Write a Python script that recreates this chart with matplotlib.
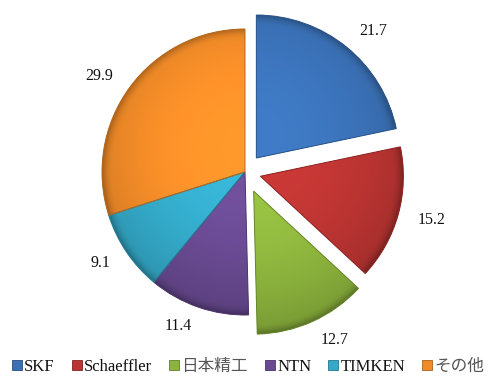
import matplotlib
matplotlib.use('Agg')
import matplotlib.pyplot as plt
import numpy as np
from matplotlib.colors import to_rgb
from matplotlib.patches import Patch, PathPatch

labels = ['SKF', 'Schaeffler', '日本精工', 'NTN', 'TIMKEN', 'その他']
values = [21.7, 15.2, 12.7, 11.4, 9.1, 29.9]
colors = ['#3a70b5', '#b93432', '#8cb33d', '#694a92', '#34a9c8', '#f18b28']
explode = [18, 16, 21, 0, 0, 0]

CX, CY = 245, 214

fig = plt.figure(figsize=(4.91, 3.86), dpi=100)
ax = fig.add_axes([0, 0, 1, 1])

wedges, texts = ax.pie(values, explode=explode, colors=colors, startangle=90,
                       counterclock=False, center=(CX, CY), radius=143,
                       labels=[f'{v:.1f}' for v in values], labeldistance=1.14,
                       textprops=dict(fontfamily='Liberation Serif', fontsize=11.5, color='#111111'),
                       frame=True, wedgeprops=dict(linewidth=0))
for t in texts:
    x, y = t.get_position()
    t.set_horizontalalignment('left' if x > CX else 'right')

# gradient shading clipped to each wedge
for w, c in zip(wedges, colors):
    cx, cy = w.center
    r = w.r
    base = np.array(to_rgb(c))
    n = 200
    xs = np.linspace(cx - r, cx + r, n)
    ys = np.linspace(cy - r, cy + r, n)
    X, Y = np.meshgrid(xs, ys)
    d = np.sqrt((X - cx) ** 2 + (Y - cy) ** 2) / r
    f = 1.10 - 0.18 * d ** 2
    f = f - 0.22 * np.clip((d - 0.93) / 0.07, 0, 1) ** 2
    f = f + 0.06 * (Y - cy) / r
    img = np.clip(base[None, None, :] * f[..., None], 0, 1)
    im = ax.imshow(img, extent=(cx - r, cx + r, cy - r, cy + r), origin='lower',
                   interpolation='bilinear', zorder=w.get_zorder() + 0.1)
    im.set_clip_path(w)
    dark = np.clip(base * 0.75, 0, 1)
    ax.add_patch(PathPatch(w.get_path(), fill=False, edgecolor=dark, linewidth=0.7,
                           zorder=w.get_zorder() + 0.2))

ax.set_xlim(0, 491)
ax.set_ylim(0, 386)
ax.set_aspect('equal')
ax.axis('off')

handles = [Patch(facecolor=c, edgecolor=tuple(np.array(to_rgb(c)) * 0.7), linewidth=0.6) for c in colors]
leg = ax.legend(handles, labels, ncol=6, loc='center', bbox_to_anchor=(0.505, 19 / 386),
                bbox_transform=ax.transAxes, frameon=False,
                prop=dict(family=['Liberation Serif', 'Noto Sans CJK JP'], size=12),
                handlelength=0.6, handleheight=0.6, handletextpad=0.15,
                columnspacing=1.0, borderpad=0)
for t in leg.get_texts():
    if t.get_text() in ('日本精工', 'その他'):
        t.set_color('#555555')
    else:
        t.set_color('#111111')

fig.savefig('out.png', dpi=100)
